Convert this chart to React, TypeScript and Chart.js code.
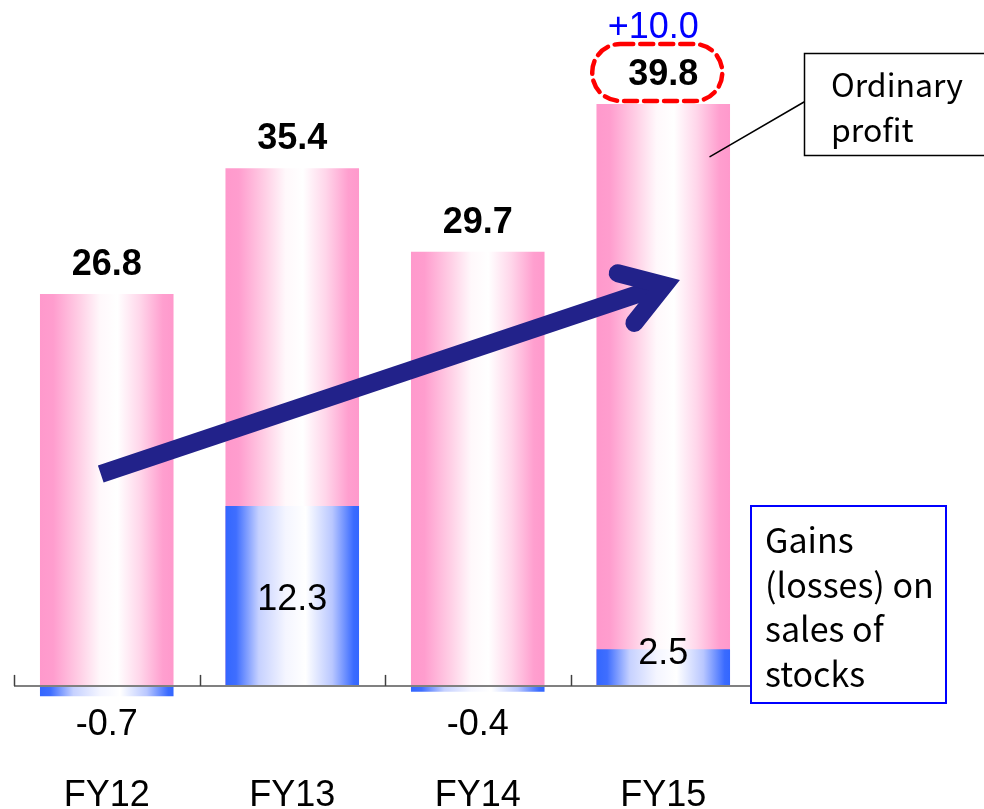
import React, { useEffect, useRef } from "react";
import { Chart, registerables } from "chart.js";

Chart.register(...registerables);

// ---- data ----
const categories = ["FY12", "FY13", "FY14", "FY15"];
const ordinaryProfit = [26.8, 35.4, 29.7, 39.8];
const stockGains = [-0.7, 12.3, -0.4, 2.5];
const increaseLabel = "+10.0";
const highlightIndex = 3;
const profitBoxLines = ["Ordinary", "profit"];
const gainsBoxLines = ["Gains", "(losses) on", "sales of", "stocks"];
const arrowStart = { index: 0, value: 14.5 };
const arrowEnd = { index: 3, value: 27.4 };
const leaderValue = 36.2;

const BAR_FRACTION = 0.72;
const NUM_FONT = "'Liberation Sans', Arial, sans-serif";
const BOX_FONT = "'Noto Sans CJK JP', 'Noto Sans', sans-serif";

function makeGradient(ctx: any, stops: [number, string][], fallback: string) {
  const chart = ctx.chart;
  const xs = chart.scales && chart.scales.x;
  if (!chart.chartArea || !xs || ctx.dataIndex === undefined) return fallback;
  const c = xs.getPixelForValue(ctx.dataIndex);
  const half = ((xs.width / categories.length) * BAR_FRACTION) / 2;
  const g = chart.ctx.createLinearGradient(c - half, 0, c + half, 0);
  stops.forEach(([o, col]) => g.addColorStop(o, col));
  return g;
}

const pinkStops: [number, string][] = [
  [0, "#ff99cc"],
  [0.1, "#ff9dce"],
  [0.3, "#ffd0e6"],
  [0.45, "#fff8fb"],
  [0.58, "#ffffff"],
  [0.75, "#ffd6ea"],
  [0.92, "#ff9fcf"],
  [1, "#ff99cc"],
];
const blueStops: [number, string][] = [
  [0, "#3366ff"],
  [0.08, "#3f6eff"],
  [0.25, "#c6d1ff"],
  [0.45, "#f4f5ff"],
  [0.6, "#ffffff"],
  [0.8, "#b9c7ff"],
  [0.96, "#3a6bff"],
  [1, "#3366ff"],
];

const overlayPlugin = {
  id: "overlay",
  afterDatasetsDraw(chart: any) {
    const { ctx, chartArea } = chart;
    const x = chart.scales.x;
    const y = chart.scales.y;
    const y0 = y.getPixelForValue(0);
    const catW = x.width / categories.length;
    const halfBar = (catW * BAR_FRACTION) / 2;

    ctx.save();
    // zero axis line
    ctx.strokeStyle = "#808080";
    ctx.lineWidth = 2;
    ctx.beginPath();
    ctx.moveTo(chartArea.left, y0);
    ctx.lineTo(chartArea.right, y0);
    ctx.stroke();
    // tick marks between categories
    ctx.strokeStyle = "#404040";
    ctx.lineWidth = 1.5;
    for (let i = 0; i <= categories.length; i++) {
      const tx = Math.round(chartArea.left + i * catW) + 0.5;
      ctx.beginPath();
      ctx.moveTo(tx, y0 - 11);
      ctx.lineTo(tx, y0);
      ctx.stroke();
    }

    // trend arrow
    const sx = x.getPixelForValue(arrowStart.index) - 6;
    const sy = y.getPixelForValue(arrowStart.value);
    const ex = x.getPixelForValue(arrowEnd.index) + 1;
    const ey = y.getPixelForValue(arrowEnd.value);
    const ang = Math.atan2(ey - sy, ex - sx);
    ctx.strokeStyle = "#22228a";
    ctx.lineWidth = 18;
    ctx.lineCap = "butt";
    ctx.beginPath();
    ctx.moveTo(sx, sy);
    ctx.lineTo(ex - 4 * Math.cos(ang), ey - 4 * Math.sin(ang));
    ctx.stroke();
    const armLen = 48;
    const spread = (33 * Math.PI) / 180;
    const a1 = ang + Math.PI - spread;
    const a2 = ang + Math.PI + spread;
    ctx.lineCap = "round";
    ctx.lineJoin = "miter";
    ctx.miterLimit = 10;
    ctx.beginPath();
    ctx.moveTo(ex + armLen * Math.cos(a1), ey + armLen * Math.sin(a1));
    ctx.lineTo(ex, ey);
    ctx.lineTo(ex + armLen * Math.cos(a2), ey + armLen * Math.sin(a2));
    ctx.stroke();

    // value labels
    ctx.textAlign = "center";
    ctx.textBaseline = "alphabetic";
    ctx.fillStyle = "#000";
    ordinaryProfit.forEach((v, i) => {
      const cx = x.getPixelForValue(i);
      const top = y.getPixelForValue(v);
      ctx.font = `bold 36px ${NUM_FONT}`;
      ctx.fillStyle = "#000";
      ctx.fillText(v.toFixed(1), cx, top - 19);
    });
    stockGains.forEach((v, i) => {
      const cx = x.getPixelForValue(i);
      const top = y.getPixelForValue(v);
      ctx.font = `36px ${NUM_FONT}`;
      ctx.fillStyle = "#000";
      let by: number;
      if (v < 0) by = y0 + 49;
      else if (y0 - top < 60) by = top + 15;
      else by = (top + y0) / 2 + 14.5;
      ctx.fillText(v.toFixed(1), cx, by);
    });

    // highlight of latest value
    const hx = x.getPixelForValue(highlightIndex);
    const htop = y.getPixelForValue(ordinaryProfit[highlightIndex]);
    ctx.strokeStyle = "#ff0000";
    ctx.lineWidth = 4.5;
    ctx.setLineDash([13, 7]);
    ctx.beginPath();
    ctx.roundRect(hx - 71, htop - 60, 130, 57, 28);
    ctx.stroke();
    ctx.setLineDash([]);
    ctx.font = `36px ${NUM_FONT}`;
    ctx.fillStyle = "#0000ff";
    ctx.fillText(increaseLabel, hx - 10, htop - 66);

    // leader line to "Ordinary profit" box
    const lx = hx + halfBar - 20;
    const ly = y.getPixelForValue(leaderValue);
    const boxL = chartArea.right + 48;
    ctx.strokeStyle = "#000";
    ctx.lineWidth = 1.5;
    ctx.beginPath();
    ctx.moveTo(lx, ly);
    ctx.lineTo(boxL, 102);
    ctx.stroke();

    // "Ordinary profit" box
    ctx.fillStyle = "#fff";
    ctx.fillRect(boxL, 53, 200, 102);
    ctx.strokeStyle = "#000";
    ctx.lineWidth = 1.5;
    ctx.strokeRect(boxL + 0.5, 53.5, 200, 102);
    ctx.fillStyle = "#000";
    ctx.textAlign = "left";
    ctx.font = `32px ${BOX_FONT}`;
    profitBoxLines.forEach((t, i) => ctx.fillText(t, boxL + 27, 97 + i * 45));

    // "Gains (losses)" box
    const gL = chartArea.right - 5;
    ctx.fillStyle = "#fff";
    ctx.fillRect(gL, 506, 195, 197);
    ctx.strokeStyle = "#0000ff";
    ctx.lineWidth = 2;
    ctx.strokeRect(gL, 506, 195, 197);
    ctx.fillStyle = "#000";
    ctx.font = `34px ${BOX_FONT}`;
    gainsBoxLines.forEach((t, i) => ctx.fillText(t, gL + 14, 553 + i * 44.7));

    ctx.restore();
  },
};

export default function App() {
  const canvasRef = useRef<HTMLCanvasElement | null>(null);

  useEffect(() => {
    if (!canvasRef.current) return;
    const chart = new Chart(canvasRef.current, {
      type: "bar",
      data: {
        labels: categories,
        datasets: [
          {
            label: "Gains (losses) on sales of stocks",
            data: stockGains,
            order: 0,
            backgroundColor: (c: any) => makeGradient(c, blueStops, "#3366ff"),
            borderWidth: 0,
            categoryPercentage: BAR_FRACTION,
            barPercentage: 1,
          },
          {
            label: "Ordinary profit",
            data: ordinaryProfit,
            order: 1,
            backgroundColor: (c: any) => makeGradient(c, pinkStops, "#ff99cc"),
            borderWidth: 0,
            categoryPercentage: BAR_FRACTION,
            barPercentage: 1,
          },
        ],
      },
      options: {
        animation: false,
        responsive: true,
        maintainAspectRatio: false,
        layout: { padding: { left: 14, right: 228, top: 28, bottom: -24 } },
        plugins: {
          legend: { display: false },
          tooltip: { enabled: false },
        },
        scales: {
          x: {
            stacked: true,
            grid: { display: false, drawTicks: false },
            border: { display: false },
            ticks: {
              color: "#000",
              padding: 23,
              maxRotation: 0,
              font: { family: NUM_FONT, size: 36, lineHeight: "28px" },
            },
          },
          y: {
            display: false,
            stacked: false,
            min: -5,
            max: 45,
          },
        },
      },
      plugins: [overlayPlugin],
    });
    return () => chart.destroy();
  }, []);

  return (
    <div
      style={{
        position: "fixed",
        left: 0,
        top: 0,
        width: 984,
        height: 809,
        background: "#fff",
      }}
    >
      <canvas ref={canvasRef} />
    </div>
  );
}
